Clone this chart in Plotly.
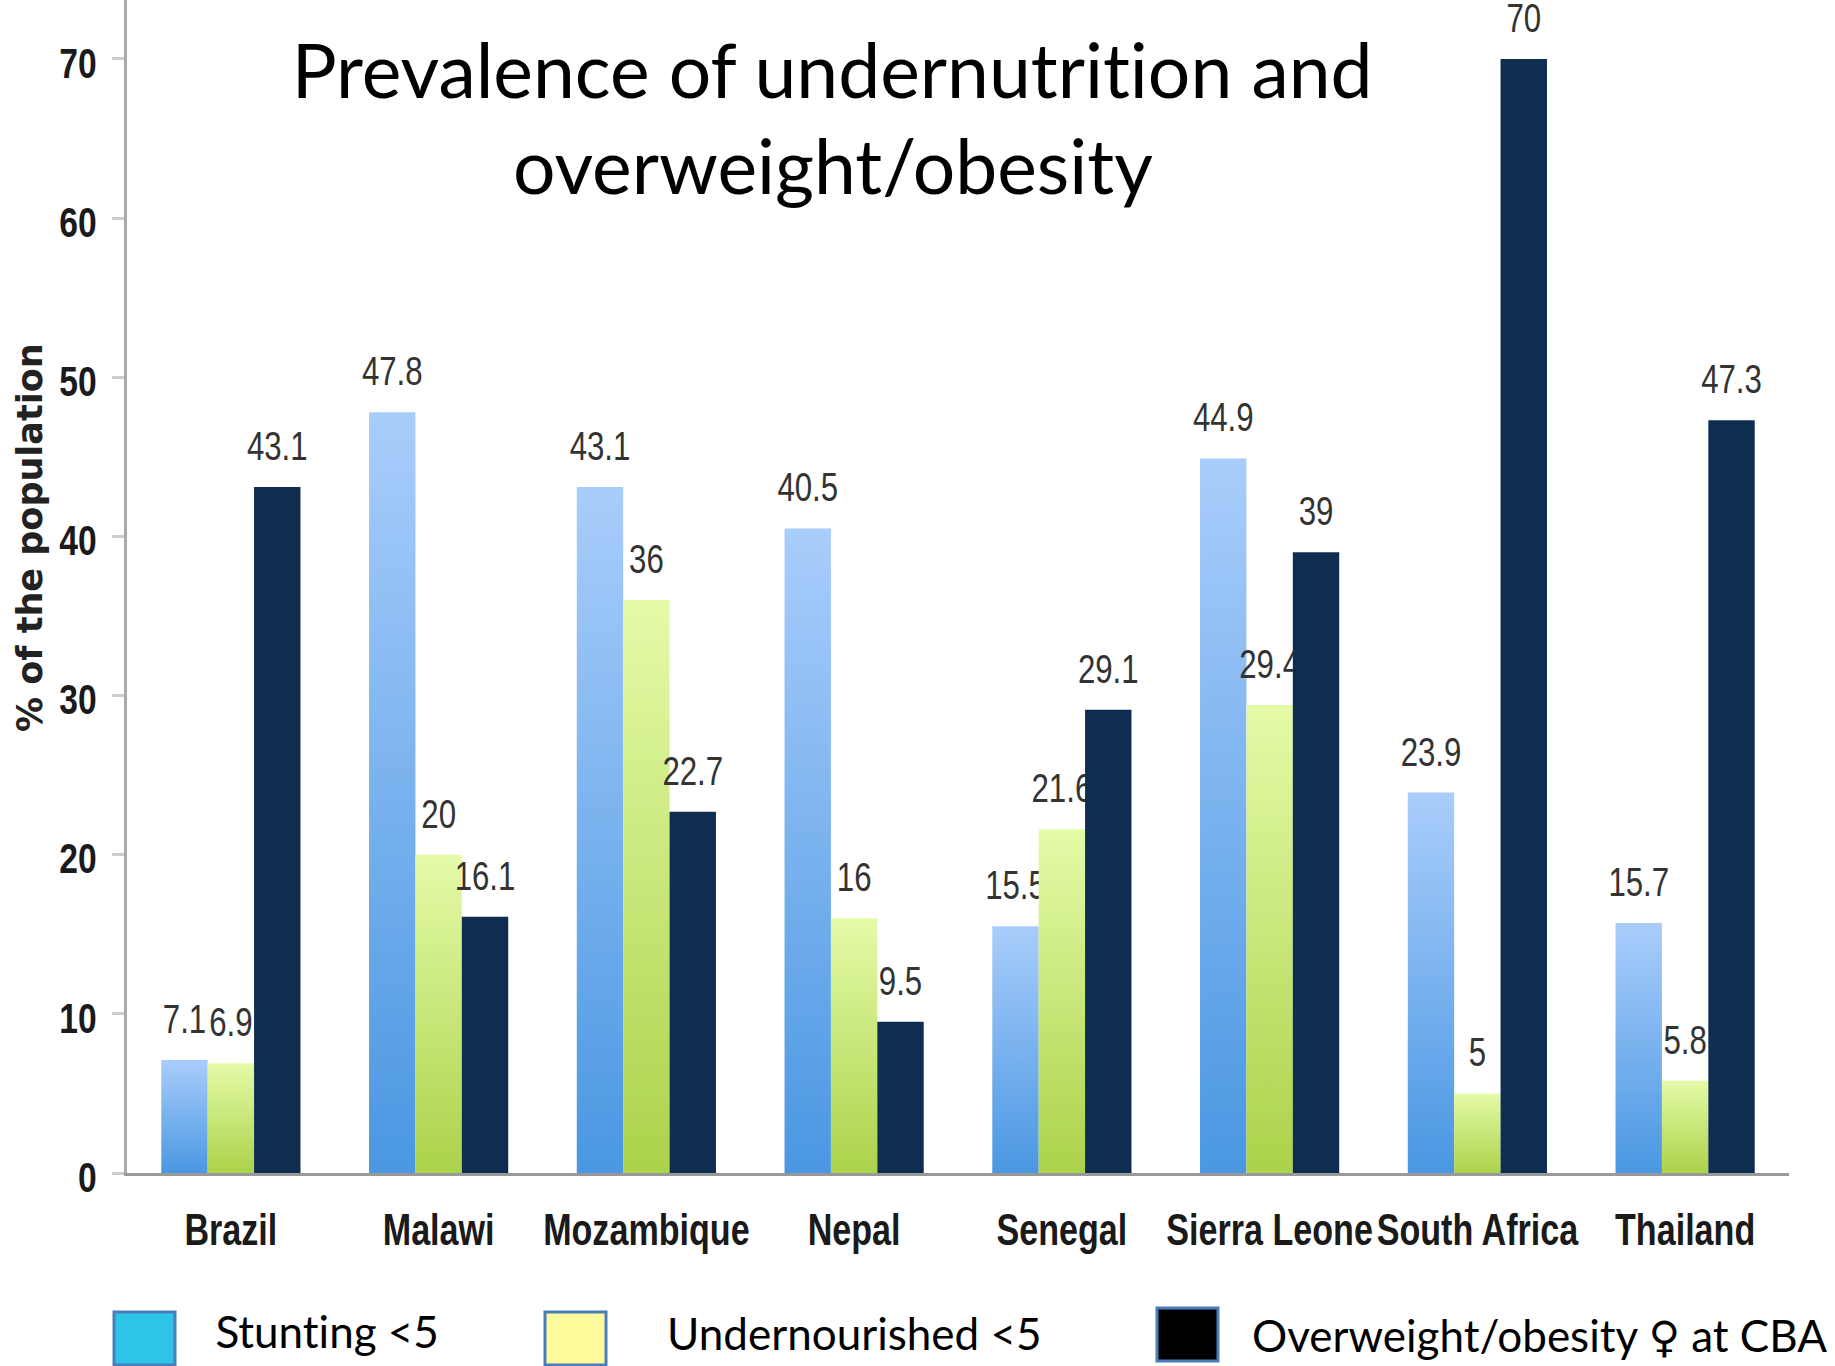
import plotly.graph_objects as go

countries = ["Brazil", "Malawi", "Mozambique", "Nepal", "Senegal", "Sierra Leone", "South Africa", "Thailand"]
stunting = [7.1, 47.8, 43.1, 40.5, 15.5, 44.9, 23.9, 15.7]
undernourished = [6.9, 20, 36, 16, 21.6, 29.4, 5, 5.8]
overweight = [43.1, 16.1, 22.7, 9.5, 29.1, 39, 70, 47.3]
y_ticks = [0, 10, 20, 30, 40, 50, 60, 70]

WIDTH, HEIGHT = 1835, 1366
LEFT, RIGHT, TOP, BOTTOM = 127, 46, 0, 193
SANS = "Liberation Sans, Arial, sans-serif"
HUMANIST = "Lato, Open Sans, sans-serif"


def px(x):
    return (x - LEFT) / (WIDTH - LEFT - RIGHT)


def py(y):
    return 1 - (y - TOP) / (HEIGHT - TOP - BOTTOM)


fig = go.Figure()
for values, colour in [(stunting, "#76B0EE"), (undernourished, "#C8E67A"), (overweight, "#0F2D50")]:
    fig.add_bar(
        x=countries, y=values, text=values, textposition="outside", textangle=0,
        constraintext="none", cliponaxis=False, marker=dict(color=colour, line=dict(width=0)),
        textfont=dict(family=SANS, size=40, color="#333333"),
    )

# Legend keys and labels are laid out by hand below the axis
FEMALE = '<span style="font-family:DejaVu Sans;font-size:43px">\u2640</span>'
legend = [
    (114, 175, 1312, 1365, "#2EC4E8", 213, 1331, "Stunting &lt;5"),
    (545, 606, 1312, 1365, "#FFFA9A", 665, 1333, "Undernourished &lt;5"),
    (1157, 1218, 1308, 1361, "#000000", 1250, 1335, "Overweight/obesity " + FEMALE + " at CBA"),
]
shapes, annotations = [], []
for x0, x1, y0, y1, fill, tx, ty, label in legend:
    shapes.append(dict(type="rect", xref="paper", yref="paper", x0=px(x0), x1=px(x1), y0=py(y1), y1=py(y0),
                       fillcolor=fill, line=dict(color="#4A7EBB", width=3)))
    annotations.append(dict(xref="paper", yref="paper", x=px(tx), y=py(ty), xanchor="left", yanchor="middle",
                            text=label, showarrow=False, font=dict(family=HUMANIST, size=44, color="#000000")))

for text, cx, cy in [("Prevalence of undernutrition and", 832, 69), ("overweight/obesity", 833, 165)]:
    annotations.append(dict(xref="paper", yref="paper", x=px(cx), y=py(cy), xanchor="center", yanchor="middle",
                            text=text, showarrow=False, font=dict(family=HUMANIST, size=75, color="#000000")))
annotations.append(dict(xref="paper", yref="paper", x=px(30), y=py(538), xanchor="center", yanchor="middle",
                        text="<b>% of the population</b>", textangle=-90, showarrow=False,
                        font=dict(family="DejaVu Sans, sans-serif", size=35, color="#222222")))

fig.update_layout(
    width=WIDTH, height=HEIGHT, margin=dict(l=LEFT, r=RIGHT, t=TOP, b=BOTTOM, pad=0),
    paper_bgcolor="white", plot_bgcolor="white", showlegend=False,
    barmode="group", bargap=0.33, bargroupgap=0,
    shapes=shapes, annotations=annotations,
    xaxis=dict(type="category", range=[-0.5, 7.5], showgrid=False, zeroline=False, showline=True,
               linecolor="#999999", linewidth=3, ticks="", ticklabelstandoff=16, tickangle=0, automargin=False,
               tickfont=dict(family=SANS, size=44, color="#1a1a1a", weight="bold")),
    yaxis=dict(range=[0, 73.7], tickvals=y_ticks, showgrid=False, zeroline=False, showline=True,
               linecolor="#aaaaaa", linewidth=3, ticks="outside", ticklen=12, tickwidth=3, tickcolor="#cccccc",
               ticklabelstandoff=7, ticklabelshift=4, automargin=False,
               tickfont=dict(family=SANS, size=42, color="#1a1a1a", weight="bold")),
)

# Vertical gradients on the two lighter series; value and tick labels are set condensed
post_script = """
var gd = document.getElementById('{plot_id}');
var svg = gd.querySelector('svg.main-svg');
var NS = 'http://www.w3.org/2000/svg';
var defs = document.createElementNS(NS, 'defs');
var ramps = [['barBlue', '#A9CDFB', '#4A97E2'], ['barGreen', '#E4FBA8', '#ACD24A']];
ramps.forEach(function (r) {
  var g = document.createElementNS(NS, 'linearGradient');
  g.setAttribute('id', r[0]);
  g.setAttribute('x1', '0'); g.setAttribute('y1', '0');
  g.setAttribute('x2', '0'); g.setAttribute('y2', '1');
  [[0, r[1]], [1, r[2]]].forEach(function (s) {
    var st = document.createElementNS(NS, 'stop');
    st.setAttribute('offset', s[0]); st.setAttribute('stop-color', s[1]);
    g.appendChild(st);
  });
  defs.appendChild(g);
});
svg.insertBefore(defs, svg.firstChild);
var traces = gd.querySelectorAll('.barlayer .trace');
ramps.forEach(function (r, i) {
  traces[i].querySelectorAll('.point path').forEach(function (p) {
    p.style.fill = 'url(#' + r[0] + ')';
  });
});
function condense(sel, s, lift, anchorRight) {
  gd.querySelectorAll(sel).forEach(function (t) {
    var b = t.getBBox();
    var c = anchorRight ? b.x + b.width : b.x + b.width / 2;
    var tr = t.getAttribute('transform') || '';
    t.setAttribute('transform', 'translate(0,' + (-lift) + ') ' + tr +
      ' translate(' + c + ',0) scale(' + s + ',1) translate(' + (-c) + ',0)');
  });
}
condense('.barlayer text.bartext', 0.78, 16, false);
condense('.xtick text', 0.775, 0, false);
condense('.ytick text', 0.8, 0, true);
gd.querySelectorAll('.annotation text').forEach(function (t) {
  t.style.fontVariantLigatures = 'none';
});
"""

fig.write_html("out.html", post_script=post_script)
